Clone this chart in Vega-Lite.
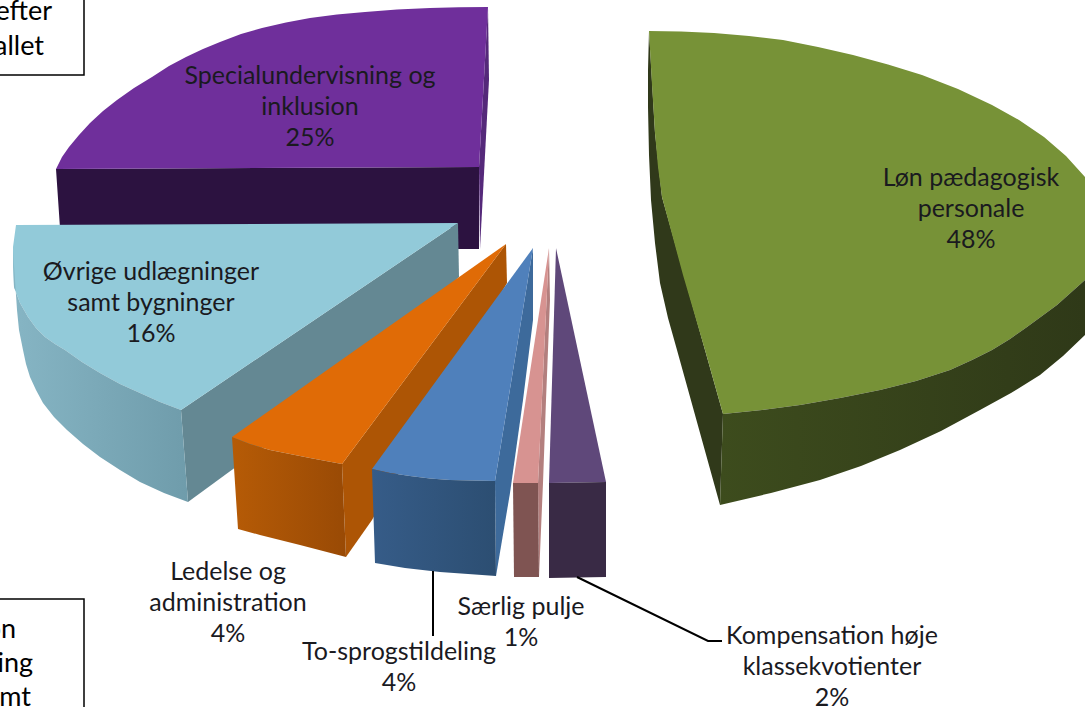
{"$schema":"https://vega.github.io/schema/vega-lite/v6.json","width":1085,"height":707,"padding":0,"autosize":"none","background":"white","view":{"stroke":null},
"datasets":{"faces":[
{"part":"spec front","i":0,"x":56,"y":169},{"part":"spec front","i":1,"x":479,"y":167},{"part":"spec front","i":2,"x":479,"y":249},{"part":"spec front","i":3,"x":458,"y":249},{"part":"spec front","i":4,"x":458,"y":228},{"part":"spec front","i":5,"x":60,"y":228},
{"part":"spec side","i":0,"x":488,"y":7},{"part":"spec side","i":1,"x":489,"y":80},{"part":"spec side","i":2,"x":480,"y":249},{"part":"spec side","i":3,"x":479,"y":167},
{"part":"spec top","i":0,"x":56,"y":169},{"part":"spec top","i":1,"x":62,"y":157},{"part":"spec top","i":2,"x":69,"y":147},{"part":"spec top","i":3,"x":79,"y":135},{"part":"spec top","i":4,"x":90,"y":123},{"part":"spec top","i":5,"x":103,"y":111},{"part":"spec top","i":6,"x":117,"y":100},{"part":"spec top","i":7,"x":134,"y":88},{"part":"spec top","i":8,"x":152,"y":77},{"part":"spec top","i":9,"x":169,"y":66},{"part":"spec top","i":10,"x":186,"y":57},{"part":"spec top","i":11,"x":203,"y":49},{"part":"spec top","i":12,"x":220,"y":42},{"part":"spec top","i":13,"x":241,"y":34},{"part":"spec top","i":14,"x":262,"y":28},{"part":"spec top","i":15,"x":286,"y":22.5},{"part":"spec top","i":16,"x":310,"y":18},{"part":"spec top","i":17,"x":337,"y":14.5},{"part":"spec top","i":18,"x":365,"y":12},{"part":"spec top","i":19,"x":397,"y":9.5},{"part":"spec top","i":20,"x":430,"y":8},{"part":"spec top","i":21,"x":459,"y":7.3},{"part":"spec top","i":22,"x":488,"y":7},{"part":"spec top","i":23,"x":479,"y":167},
{"part":"ovr inner","i":0,"x":458,"y":223},{"part":"ovr inner","i":1,"x":459,"y":277},{"part":"ovr inner","i":2,"x":300,"y":420},{"part":"ovr inner","i":3,"x":188,"y":502},{"part":"ovr inner","i":4,"x":181,"y":410},
{"part":"ovr top","i":0,"x":16,"y":225},{"part":"ovr top","i":1,"x":13,"y":247},{"part":"ovr top","i":2,"x":13,"y":267},{"part":"ovr top","i":3,"x":14,"y":287},{"part":"ovr top","i":4,"x":20,"y":303},{"part":"ovr top","i":5,"x":28,"y":317},{"part":"ovr top","i":6,"x":36,"y":328},{"part":"ovr top","i":7,"x":45,"y":337},{"part":"ovr top","i":8,"x":55,"y":344},{"part":"ovr top","i":9,"x":65,"y":350},{"part":"ovr top","i":10,"x":82,"y":362},{"part":"ovr top","i":11,"x":100,"y":373},{"part":"ovr top","i":12,"x":120,"y":384},{"part":"ovr top","i":13,"x":140,"y":393},{"part":"ovr top","i":14,"x":160,"y":402},{"part":"ovr top","i":15,"x":181,"y":410},{"part":"ovr top","i":16,"x":458,"y":223},
{"part":"ovr outer","i":0,"x":13,"y":250},{"part":"ovr outer","i":1,"x":14,"y":287},{"part":"ovr outer","i":2,"x":20,"y":303},{"part":"ovr outer","i":3,"x":28,"y":317},{"part":"ovr outer","i":4,"x":36,"y":328},{"part":"ovr outer","i":5,"x":45,"y":337},{"part":"ovr outer","i":6,"x":55,"y":344},{"part":"ovr outer","i":7,"x":65,"y":350},{"part":"ovr outer","i":8,"x":82,"y":362},{"part":"ovr outer","i":9,"x":100,"y":373},{"part":"ovr outer","i":10,"x":120,"y":384},{"part":"ovr outer","i":11,"x":140,"y":393},{"part":"ovr outer","i":12,"x":160,"y":402},{"part":"ovr outer","i":13,"x":181,"y":410},{"part":"ovr outer","i":14,"x":188,"y":502},{"part":"ovr outer","i":15,"x":164,"y":493},{"part":"ovr outer","i":16,"x":140,"y":482},{"part":"ovr outer","i":17,"x":120,"y":470},{"part":"ovr outer","i":18,"x":100,"y":457},{"part":"ovr outer","i":19,"x":83,"y":444},{"part":"ovr outer","i":20,"x":67,"y":430},{"part":"ovr outer","i":21,"x":54,"y":417},{"part":"ovr outer","i":22,"x":43,"y":403},{"part":"ovr outer","i":23,"x":36,"y":390},{"part":"ovr outer","i":24,"x":30,"y":377},{"part":"ovr outer","i":25,"x":26,"y":364},{"part":"ovr outer","i":26,"x":23,"y":350},{"part":"ovr outer","i":27,"x":19,"y":330},{"part":"ovr outer","i":28,"x":17,"y":310},{"part":"ovr outer","i":29,"x":15,"y":280},
{"part":"led side","i":0,"x":506,"y":244},{"part":"led side","i":1,"x":507,"y":283},{"part":"led side","i":2,"x":372,"y":520},{"part":"led side","i":3,"x":346,"y":557},{"part":"led side","i":4,"x":342,"y":464},
{"part":"led top","i":0,"x":506,"y":244},{"part":"led top","i":1,"x":232,"y":437},{"part":"led top","i":2,"x":250,"y":444},{"part":"led top","i":3,"x":270,"y":450},{"part":"led top","i":4,"x":290,"y":454},{"part":"led top","i":5,"x":310,"y":458},{"part":"led top","i":6,"x":342,"y":464},
{"part":"led front","i":0,"x":232,"y":437},{"part":"led front","i":1,"x":250,"y":444},{"part":"led front","i":2,"x":270,"y":450},{"part":"led front","i":3,"x":290,"y":454},{"part":"led front","i":4,"x":310,"y":458},{"part":"led front","i":5,"x":342,"y":464},{"part":"led front","i":6,"x":346,"y":557},{"part":"led front","i":7,"x":300,"y":545},{"part":"led front","i":8,"x":260,"y":535},{"part":"led front","i":9,"x":238,"y":529},
{"part":"to side","i":0,"x":533,"y":248},{"part":"to side","i":1,"x":533,"y":320},{"part":"to side","i":2,"x":523,"y":400},{"part":"to side","i":3,"x":510,"y":493},{"part":"to side","i":4,"x":496,"y":576},{"part":"to side","i":5,"x":495,"y":481},
{"part":"to top","i":0,"x":533,"y":248},{"part":"to top","i":1,"x":372,"y":469},{"part":"to top","i":2,"x":390,"y":473},{"part":"to top","i":3,"x":410,"y":476},{"part":"to top","i":4,"x":430,"y":478.5},{"part":"to top","i":5,"x":450,"y":480},{"part":"to top","i":6,"x":495,"y":481},
{"part":"to front","i":0,"x":372,"y":469},{"part":"to front","i":1,"x":390,"y":473},{"part":"to front","i":2,"x":410,"y":476},{"part":"to front","i":3,"x":430,"y":478.5},{"part":"to front","i":4,"x":450,"y":480},{"part":"to front","i":5,"x":495,"y":481},{"part":"to front","i":6,"x":496,"y":576},{"part":"to front","i":7,"x":440,"y":572},{"part":"to front","i":8,"x":405,"y":568},{"part":"to front","i":9,"x":375,"y":563},
{"part":"pulje side","i":0,"x":549,"y":248},{"part":"pulje side","i":1,"x":550,"y":300},{"part":"pulje side","i":2,"x":546,"y":400},{"part":"pulje side","i":3,"x":543,"y":483},{"part":"pulje side","i":4,"x":539,"y":577},{"part":"pulje side","i":5,"x":538,"y":483},
{"part":"pulje top","i":0,"x":549,"y":248},{"part":"pulje top","i":1,"x":513,"y":483},{"part":"pulje top","i":2,"x":538,"y":483},
{"part":"pulje front","i":0,"x":513,"y":483},{"part":"pulje front","i":1,"x":538,"y":483},{"part":"pulje front","i":2,"x":539,"y":577},{"part":"pulje front","i":3,"x":514,"y":577},
{"part":"komp top","i":0,"x":556,"y":248},{"part":"komp top","i":1,"x":549,"y":483},{"part":"komp top","i":2,"x":606,"y":482},
{"part":"komp front","i":0,"x":549,"y":483},{"part":"komp front","i":1,"x":606,"y":482},{"part":"komp front","i":2,"x":606,"y":577},{"part":"komp front","i":3,"x":549,"y":578},
{"part":"loen inner","i":0,"x":649,"y":31},{"part":"loen inner","i":1,"x":648,"y":70},{"part":"loen inner","i":2,"x":648,"y":107},{"part":"loen inner","i":3,"x":649,"y":155},{"part":"loen inner","i":4,"x":651,"y":200},{"part":"loen inner","i":5,"x":655,"y":243},{"part":"loen inner","i":6,"x":660,"y":283},{"part":"loen inner","i":7,"x":668,"y":318},{"part":"loen inner","i":8,"x":677,"y":350},{"part":"loen inner","i":9,"x":720,"y":505},{"part":"loen inner","i":10,"x":723,"y":414},{"part":"loen inner","i":11,"x":705,"y":350},{"part":"loen inner","i":12,"x":662,"y":197},{"part":"loen inner","i":13,"x":655,"y":133},
{"part":"loen top","i":0,"x":649,"y":31},{"part":"loen top","i":1,"x":681,"y":31.5},{"part":"loen top","i":2,"x":714,"y":33},{"part":"loen top","i":3,"x":749,"y":36},{"part":"loen top","i":4,"x":783,"y":40},{"part":"loen top","i":5,"x":818,"y":47},{"part":"loen top","i":6,"x":853,"y":55},{"part":"loen top","i":7,"x":888,"y":64.5},{"part":"loen top","i":8,"x":922,"y":75},{"part":"loen top","i":9,"x":958,"y":89},{"part":"loen top","i":10,"x":992,"y":105},{"part":"loen top","i":11,"x":1019,"y":120},{"part":"loen top","i":12,"x":1044,"y":137},{"part":"loen top","i":13,"x":1066,"y":156},{"part":"loen top","i":14,"x":1085,"y":177},{"part":"loen top","i":15,"x":1085,"y":280},{"part":"loen top","i":16,"x":1057,"y":305},{"part":"loen top","i":17,"x":1027,"y":327},{"part":"loen top","i":18,"x":1010,"y":339},{"part":"loen top","i":19,"x":992,"y":350},{"part":"loen top","i":20,"x":972,"y":360},{"part":"loen top","i":21,"x":950,"y":370},{"part":"loen top","i":22,"x":916,"y":381},{"part":"loen top","i":23,"x":880,"y":390},{"part":"loen top","i":24,"x":840,"y":398},{"part":"loen top","i":25,"x":800,"y":405},{"part":"loen top","i":26,"x":762,"y":410},{"part":"loen top","i":27,"x":723,"y":414},{"part":"loen top","i":28,"x":705,"y":350},{"part":"loen top","i":29,"x":683,"y":275},{"part":"loen top","i":30,"x":662,"y":197},{"part":"loen top","i":31,"x":658,"y":167},{"part":"loen top","i":32,"x":655,"y":133},{"part":"loen top","i":33,"x":652,"y":85},
{"part":"loen front","i":0,"x":723,"y":414},{"part":"loen front","i":1,"x":762,"y":410},{"part":"loen front","i":2,"x":800,"y":405},{"part":"loen front","i":3,"x":840,"y":398},{"part":"loen front","i":4,"x":880,"y":390},{"part":"loen front","i":5,"x":916,"y":381},{"part":"loen front","i":6,"x":950,"y":370},{"part":"loen front","i":7,"x":972,"y":360},{"part":"loen front","i":8,"x":992,"y":350},{"part":"loen front","i":9,"x":1010,"y":339},{"part":"loen front","i":10,"x":1027,"y":327},{"part":"loen front","i":11,"x":1057,"y":305},{"part":"loen front","i":12,"x":1085,"y":280},{"part":"loen front","i":13,"x":1085,"y":335},{"part":"loen front","i":14,"x":1063,"y":356},{"part":"loen front","i":15,"x":1040,"y":375},{"part":"loen front","i":16,"x":1011,"y":393},{"part":"loen front","i":17,"x":980,"y":410},{"part":"loen front","i":18,"x":941,"y":431},{"part":"loen front","i":19,"x":900,"y":450},{"part":"loen front","i":20,"x":861,"y":466},{"part":"loen front","i":21,"x":820,"y":480},{"part":"loen front","i":22,"x":771,"y":493},{"part":"loen front","i":23,"x":720,"y":505}
],
"labels":[
{"t":"Specialundervisning og\ninklusion\n25%","x":310,"y":76},
{"t":"Løn pædagogisk\npersonale\n48%","x":971,"y":178},
{"t":"Øvrige udlægninger\nsamt bygninger\n16%","x":151,"y":272},
{"t":"Ledelse og\nadministration\n4%","x":228,"y":572},
{"t":"To-sprogstildeling\n4%","x":399,"y":652},
{"t":"Særlig pulje\n1%","x":521,"y":607},
{"t":"Kompensation høje\nklassekvotienter\n2%","x":832,"y":636}
],
"boxes":[{"x":-20,"x2":84,"y":-20,"y2":75},{"x":-20,"x2":84,"y":599,"y2":730}],
"boxtext":[{"t":"efter","x":52,"y":12},{"t":"allet","x":44,"y":47},{"t":"on","x":16,"y":630},{"t":"ing","x":33,"y":664},{"t":"mt","x":31,"y":698}],
"leaders":[{"k":"to","i":0,"x":433,"y":571},{"k":"to","i":1,"x":433,"y":636},{"k":"komp","i":0,"x":577,"y":577},{"k":"komp","i":1,"x":708,"y":641},{"k":"komp","i":2,"x":722,"y":641}]
},
"resolve":{"scale":{"fill":"shared"}},
"encoding":{"x":{"field":"x","type":"quantitative","axis":null,"scale":{"domain":[0,1085],"nice":false,"zero":false}},"y":{"field":"y","type":"quantitative","axis":null,"scale":{"domain":[707,0],"nice":false,"zero":false}}},
"layer":[
{"data":{"name":"faces"},"transform":[{"filter":{"field":"part","oneOf":["spec front","spec side","spec top","ovr inner","ovr top"]}}],"mark":{"type":"line","strokeWidth":0,"clip":true},"encoding":{"order":{"field":"i"},"detail":{"field":"part"},"fill":{"field":"part","type":"nominal","legend":null,"scale":{"domain":["spec front","spec side","spec top","ovr inner","ovr top","led side","led top","to side","to top","pulje side","pulje top","pulje front","komp top","komp front","loen inner","loen top"],"range":["#2c1240","#55297a","#6f2f9b","#648893","#92cad9","#ad5505","#e06b06","#3d6a9b","#4f80bb","#b37f7e","#d79391","#7f5452","#5f487a","#392a45","#30391a","#779237"]}}}},
{"data":{"name":"faces"},"transform":[{"filter":{"field":"part","equal":"ovr outer"}}],"mark":{"type":"line","strokeWidth":0,"clip":true,"fill":{"gradient":"linear","x1":0,"y1":0,"x2":1,"y2":0,"stops":[{"offset":0,"color":"#86b5c4"},{"offset":1,"color":"#6f9cab"}]}},"encoding":{"order":{"field":"i"}}},
{"data":{"name":"faces"},"transform":[{"filter":{"field":"part","oneOf":["led side","led top"]}}],"mark":{"type":"line","strokeWidth":0,"clip":true},"encoding":{"order":{"field":"i"},"detail":{"field":"part"},"fill":{"field":"part","type":"nominal","legend":null}}},
{"data":{"name":"faces"},"transform":[{"filter":{"field":"part","equal":"led front"}}],"mark":{"type":"line","strokeWidth":0,"clip":true,"fill":{"gradient":"linear","x1":0,"y1":0,"x2":1,"y2":0,"stops":[{"offset":0,"color":"#b65b06"},{"offset":1,"color":"#994a05"}]}},"encoding":{"order":{"field":"i"}}},
{"data":{"name":"faces"},"transform":[{"filter":{"field":"part","oneOf":["to side","to top"]}}],"mark":{"type":"line","strokeWidth":0,"clip":true},"encoding":{"order":{"field":"i"},"detail":{"field":"part"},"fill":{"field":"part","type":"nominal","legend":null}}},
{"data":{"name":"faces"},"transform":[{"filter":{"field":"part","equal":"to front"}}],"mark":{"type":"line","strokeWidth":0,"clip":true,"fill":{"gradient":"linear","x1":0,"y1":0,"x2":1,"y2":0,"stops":[{"offset":0,"color":"#365c88"},{"offset":1,"color":"#2c4e72"}]}},"encoding":{"order":{"field":"i"}}},
{"data":{"name":"faces"},"transform":[{"filter":{"field":"part","oneOf":["pulje side","pulje top","pulje front","komp top","komp front","loen inner","loen top"]}}],"mark":{"type":"line","strokeWidth":0,"clip":true},"encoding":{"order":{"field":"i"},"detail":{"field":"part"},"fill":{"field":"part","type":"nominal","legend":null}}},
{"data":{"name":"faces"},"transform":[{"filter":{"field":"part","equal":"loen front"}}],"mark":{"type":"line","strokeWidth":0,"clip":true,"fill":{"gradient":"linear","x1":0,"y1":0,"x2":1,"y2":0,"stops":[{"offset":0,"color":"#3d4c1d"},{"offset":1,"color":"#2f3918"}]}},"encoding":{"order":{"field":"i"}}},
{"data":{"name":"boxes"},"mark":{"type":"rect","fill":"white","stroke":"black","strokeWidth":1.5,"clip":true},"encoding":{"x2":{"field":"x2"},"y2":{"field":"y2"}}},
{"data":{"name":"boxtext"},"mark":{"type":"text","font":"Lato","fontSize":27,"align":"right","baseline":"middle","color":"black"},"encoding":{"text":{"field":"t"}}},
{"data":{"name":"leaders"},"mark":{"type":"line","stroke":"black","strokeWidth":2},"encoding":{"order":{"field":"i"},"detail":{"field":"k"}}},
{"data":{"name":"labels"},"mark":{"type":"text","font":"Lato","fontSize":25,"align":"center","baseline":"middle","lineBreak":"\n","lineHeight":31,"color":"#1a1a1f"},"encoding":{"text":{"field":"t"}}}
]}
